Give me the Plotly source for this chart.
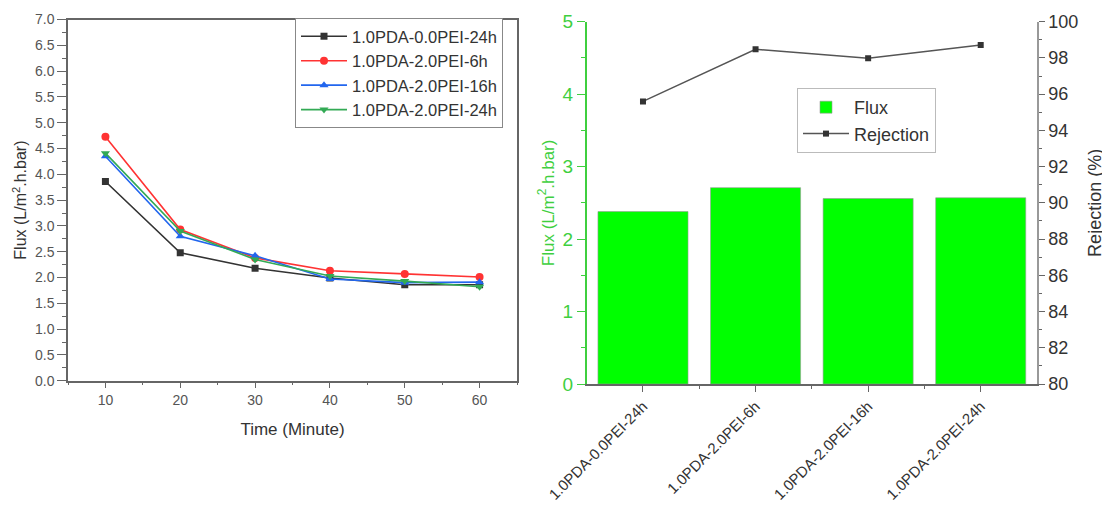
import plotly.graph_objects as go

# ---- data: left chart (flux vs time) ----
time_min = [10, 20, 30, 40, 50, 60]
series_names = ["1.0PDA-0.0PEI-24h", "1.0PDA-2.0PEI-6h", "1.0PDA-2.0PEI-16h", "1.0PDA-2.0PEI-24h"]
flux_0pei_24h = [3.86, 2.48, 2.18, 1.99, 1.86, 1.86]
flux_2pei_6h = [4.73, 2.93, 2.38, 2.13, 2.07, 2.01]
flux_2pei_16h = [4.35, 2.80, 2.42, 1.97, 1.90, 1.91]
flux_2pei_24h = [4.41, 2.90, 2.35, 2.03, 1.93, 1.82]
left_yticks = [0.0, 0.5, 1.0, 1.5, 2.0, 2.5, 3.0, 3.5, 4.0, 4.5, 5.0, 5.5, 6.0, 6.5, 7.0]

# ---- data: right chart (flux bars + rejection) ----
samples = ["1.0PDA-0.0PEI-24h", "1.0PDA-2.0PEI-6h", "1.0PDA-2.0PEI-16h", "1.0PDA-2.0PEI-24h"]
flux_bar = [2.38, 2.71, 2.56, 2.57]
rejection = [95.6, 98.48, 97.98, 98.71]

FONT = "Arial, Liberation Sans, sans-serif"
AX = "#666666"
TXT = "#444444"
GREEN_AX = "#3fcf3f"

# page body has an 8px margin; work in reference pixels and convert
W, H, OFF = 1102, 505, 8


def px_x(v):
    return (v - OFF) / W


def px_y(v):
    return 1 - (v - OFF) / H


fig = go.Figure()

line_styles = [
    ("#333333", "square", 7),
    ("#ff3333", "circle", 8),
    ("#2266ee", "triangle-up", 8),
    ("#33aa55", "triangle-down", 8),
]
all_series = [flux_0pei_24h, flux_2pei_6h, flux_2pei_16h, flux_2pei_24h]
for name, ys, (c, sym, sz) in zip(series_names, all_series, line_styles):
    fig.add_trace(go.Scatter(
        x=time_min, y=ys, name=name, mode="lines+markers",
        line=dict(color=c, width=1.6),
        marker=dict(color=c, symbol=sym, size=sz),
        xaxis="x", yaxis="y", legend="legend",
    ))

xpos = list(range(len(samples)))
fig.add_trace(go.Bar(
    x=xpos, y=flux_bar, name="Flux", width=0.8,
    marker=dict(color="#00ff00", line=dict(color="#999999", width=0.6)),
    xaxis="x2", yaxis="y2", legend="legend2",
))
fig.add_trace(go.Scatter(
    x=xpos, y=rejection, name="Rejection", mode="lines+markers",
    line=dict(color="#555555", width=1.5),
    marker=dict(color="#333333", symbol="square", size=6),
    xaxis="x2", yaxis="y3", legend="legend2",
))

fig.update_layout(
    width=W, height=H,
    margin=dict(l=0, r=0, t=0, b=0),
    paper_bgcolor="white", plot_bgcolor="white",
    font=dict(family=FONT, color=TXT),
    showlegend=True,
    xaxis=dict(
        domain=[px_x(68), px_x(517)], anchor="y", range=[5, 65],
        tickvals=time_min, ticks="outside", ticklen=6, tickcolor=AX,
        minor=dict(ticks="outside", ticklen=3, dtick=5, tick0=5, tickcolor=AX),
        showline=True, linecolor=AX, linewidth=1.5, mirror=True,
        showgrid=False, zeroline=False,
        tickfont=dict(size=14, color="#555555"),
        title=dict(text="Time (Minute)", font=dict(size=17, color="#333333"), standoff=16),
        automargin=False,
    ),
    yaxis=dict(
        domain=[px_y(380.7), px_y(19.5)], anchor="x", range=[0, 7],
        tickvals=left_yticks, tickformat=".1f", ticks="outside", ticklen=9, tickcolor=AX,
        minor=dict(ticks="outside", ticklen=4, dtick=0.25, tick0=0, tickcolor=AX),
        showline=True, linecolor=AX, linewidth=1.5, mirror=True,
        showgrid=False, zeroline=False,
        tickfont=dict(size=14, color="#555555"),
        title=dict(text="Flux (L/m<sup>2</sup>.h.bar)", font=dict(size=16, color="#333333"), standoff=4),
        automargin=False,
    ),
    xaxis2=dict(
        domain=[px_x(586.7), px_x(1037)], anchor="y2", range=[-0.5, 3.5],
        tickvals=xpos, ticktext=samples, tickangle=-45,
        ticks="outside", ticklen=6, tickcolor=AX,
        minor=dict(ticks="outside", ticklen=3, tickvals=[0.5, 1.5, 2.5], tickcolor=AX),
        showline=True, linecolor=AX, linewidth=1.5,
        showgrid=False, zeroline=False,
        tickfont=dict(size=15, color="#333333"),
        automargin=False,
    ),
    xaxis3=dict(
        domain=[px_x(586.7), px_x(1037)], anchor="y2", overlaying="x2", side="top",
        range=[-0.5, 3.5], tickvals=xpos, showticklabels=False,
        ticks="inside", ticklen=6, tickcolor=AX,
        minor=dict(ticks="inside", ticklen=3, tickvals=[0.5, 1.5, 2.5], tickcolor=AX),
        showline=True, linecolor=AX, linewidth=1.5,
        showgrid=False, zeroline=False, automargin=False,
    ),
    yaxis2=dict(
        domain=[px_y(384), px_y(21.7)], anchor="x2", range=[0, 5],
        tickvals=[0, 1, 2, 3, 4, 5], ticks="outside", ticklen=8, tickcolor=GREEN_AX,
        minor=dict(ticks="outside", ticklen=4, dtick=0.5, tick0=0, tickcolor=GREEN_AX),
        showline=True, linecolor=GREEN_AX, linewidth=1.5,
        showgrid=False, zeroline=False,
        tickfont=dict(size=19, color=GREEN_AX),
        title=dict(text="Flux (L/m<sup>2</sup>.h.bar)", font=dict(size=17, color=GREEN_AX), standoff=4),
        automargin=False,
    ),
    yaxis3=dict(
        domain=[px_y(384), px_y(21.7)], anchor="x2", overlaying="y2", side="right", range=[80, 100],
        tickvals=[80, 82, 84, 86, 88, 90, 92, 94, 96, 98, 100],
        ticks="outside", ticklen=6, tickcolor=AX,
        minor=dict(ticks="outside", ticklen=3, dtick=1, tick0=80, tickcolor=AX),
        showline=True, linecolor="#999999", linewidth=1.5,
        showgrid=False, zeroline=False,
        tickfont=dict(size=18, color="#333333"),
        title=dict(text="Rejection (%)", font=dict(size=18, color="#333333"), standoff=11),
        automargin=False,
    ),
    legend=dict(
        x=px_x(295), y=px_y(18), xanchor="left", yanchor="top",
        bgcolor="white", bordercolor="#888888", borderwidth=1,
        font=dict(size=16.5, color="#333333"), tracegroupgap=0, itemwidth=46,
    ),
    legend2=dict(
        x=px_x(797), y=px_y(88), xanchor="left", yanchor="top",
        bgcolor="white", bordercolor="#bbbbbb", borderwidth=1,
        font=dict(size=18, color="#333333"), itemwidth=46,
    ),
)

fig.write_html("out.html")
